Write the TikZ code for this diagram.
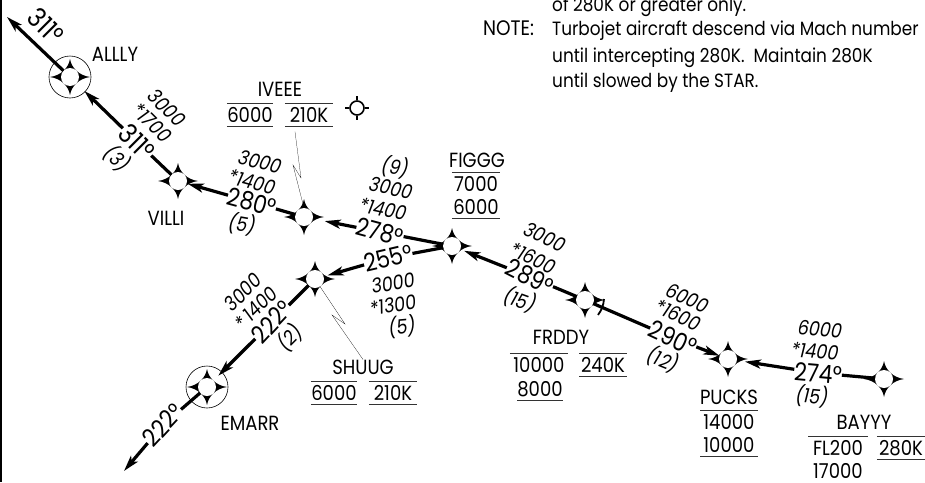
\documentclass[tikz,border=0pt]{standalone}
\usepackage{fontspec}
\setmainfont{Poppins}[FakeStretch=0.88]
\usepackage{tikz}
\usetikzlibrary{arrows.meta}
\tikzset{>={Stealth[length=16pt,width=9pt,inset=4pt]}}
\tikzset{
  track/.style={line width=3.2pt,black},
  inbound/.style={->,line width=3.2pt,black},
  leader/.style={very thin,black},
  fixpt/.style={circle,fill=white,minimum size=18pt,inner sep=0,outer sep=0},
  ringpt/.style={draw=black,line width=0.6pt,fill=none,circle,minimum size=42pt,inner sep=0,outer sep=0},
  crs/.style={font=\fontsize{25}{25}\selectfont,inner sep=0pt},
  crswide/.style={font=\fontsize{27}{25}\selectfont,inner sep=0pt},
  alt/.style={font=\fontsize{20}{20}\selectfont\itshape,inner sep=0},
  fixname/.style={font=\fontsize{20.5}{20}\selectfont,inner sep=0},
  restr/.style={font=\fontsize{20.5}{20}\selectfont,inner sep=0,minimum height=23pt},
  hrule/.style={line width=0.8pt,black!80},
  notetext/.style={font=\fontsize{19.2}{20}\selectfont,inner sep=0,anchor=base west},
}
\newcommand{\fixstar}[2]{
  \fill[shift={(#2)}] (0,-18) .. controls (1.5,-9) and (9,-1.5) .. (20,0) .. controls (9,1.5) and (1.5,9) .. (0,18)
    .. controls (-1.5,9) and (-9,1.5) .. (-20,0) .. controls (-9,-1.5) and (-1.5,-9) .. (0,-18) -- cycle;
  \node[fixpt] (#1) at (#2) {};
}
\begin{document}
\begin{tikzpicture}[x=1pt,y=-1pt]
  \useasboundingbox (0,0) rectangle (925,482);
  \coordinate (edgetop) at (1,0);
  \coordinate (edgebot) at (1,482);
  \draw[line width=1.2pt] (edgetop) -- (edgebot);

  % notes
  \node[notetext] (note0) at (552,11) {of 280K or greater only.};
  \node[notetext,font=\fontsize{21}{20}\selectfont] (note1) at (483,35) {NOTE:};
  \node[notetext] (note2) at (552,35) {Turbojet aircraft descend via Mach number};
  \node[notetext] (note3) at (552,62) {until intercepting 280K.\ \ Maintain 280K};
  \node[notetext] (note4) at (552,87) {until slowed by the STAR.};

  % fixes
  \fixstar{ALLLY}{70,77}
  \fixstar{VILLI}{178,181}
  \fixstar{IVEEE}{304,217}
  \fixstar{FIGGG}{452,246}
  \fixstar{SHUUG}{315,279}
  \fixstar{EMARR}{207,387}
  \fixstar{FRDDY}{585,300}
  \fixstar{PUCKS}{728,359}
  \fixstar{BAYYY}{884,379}
  \node[ringpt] (ringA) at (ALLLY) {};
  \node[ringpt] (ringE) at (EMARR) {};
  \coordinate (outA) at (7,17);
  \coordinate (outE) at (124,471);

  % fix names
  \node[fixname] (nALLLY) at (115,54) {ALLLY};
  \node[fixname] (nVILLI) at (166,218) {VILLI};
  \node[fixname] (nIVEEE) at (280,89) {IVEEE};
  \node[fixname] (nFIGGG) at (477,160) {FIGGG};
  \node[fixname] (nSHUUG) at (363,367) {SHUUG};
  \node[fixname] (nEMARR) at (250,423) {EMARR};
  \node[fixname] (nFRDDY) at (561,337) {FRDDY};
  \node[fixname] (nPUCKS) at (729,397) {PUCKS};
  \node[fixname] (nBAYYY) at (864,422) {BAYYY};

  % courses
  \node[crswide,rotate=-45] (c1) at (46,26) {311°};
  \node[crswide,rotate=-45] (c2) at (137,142) {311°};
  \node[crs,rotate=-15] (c3) at (252,202) {280°};
  \node[crs,rotate=-15] (c4) at (380,232) {278°};
  \node[crs,rotate=13] (c5) at (388,258) {255°};
  \node[crs,rotate=47] (c6) at (272,322) {222°};
  \node[crs,rotate=47] (c7) at (163,425) {222°};
  \node[crs,rotate=-27] (c8) at (530,277) {289°};
  \node[crs,rotate=-25] (c9) at (673,338) {290°};
  \node[crs,rotate=-5] (c10) at (818,373) {274°};

  % tracks
  \draw[inbound] (ALLLY) -- (outA);
  \draw[track] (VILLI) -- (c2);
  \draw[inbound,shorten >=11pt] (c2) -- (ALLLY);
  \draw[track] (IVEEE) -- (c3);
  \draw[inbound,shorten >=1pt] (c3) -- (VILLI);
  \draw[track] (FIGGG) -- (c4);
  \draw[inbound,shorten >=12pt] (c4) -- (IVEEE);
  \draw[track] (FIGGG) -- (c5);
  \draw[inbound,shorten >=4pt] (c5) -- (SHUUG);
  \draw[track] (SHUUG) -- (c6);
  \draw[inbound,shorten >=7pt] (c6) -- (EMARR);
  \draw[track] (EMARR) -- (c7);
  \draw[inbound] (c7) -- (outE);
  \draw[track] (FRDDY) -- (c8);
  \draw[inbound,shorten >=4pt] (c8) -- (FIGGG);
  \draw[track] (FRDDY) -- (c9);
  \draw[inbound] (c9) -- (PUCKS);
  \draw[track] (BAYYY) -- (c10);
  \draw[inbound,shorten >=8pt] (c10) -- (PUCKS);

  % altitudes
  \node[alt,rotate=-45] (a1) at (167,108) {3000};
  \node[alt,rotate=-45] (a2) at (152,123) {*1700};
  \node[alt,rotate=-45] (a3) at (117,159) {(3)};
  \node[alt,rotate=-15] (a4) at (260,162) {3000};
  \node[alt,rotate=-15] (a5) at (252,182) {*1400};
  \node[alt,rotate=-10] (a6) at (242,224) {(5)};
  \node[alt,rotate=-10] (a7) at (395,167) {(9)};
  \node[alt,rotate=-12] (a8) at (391,188) {3000};
  \node[alt,rotate=-12] (a9) at (383,209) {*1400};
  \node[alt,rotate=10] (a10) at (393,283) {3000};
  \node[alt,rotate=10] (a11) at (393,305) {*1300};
  \node[alt,rotate=5] (a12) at (402,327) {(5)};
  \node[alt,rotate=45] (a13) at (243,292) {3000};
  \node[alt,rotate=45] (a14) at (256,308) {*\,1400};
  \node[alt,rotate=45] (a15) at (290,338) {(2)};
  \node[alt,rotate=-25] (a16) at (545,237) {3000};
  \node[alt,rotate=-25] (a17) at (533,258) {*1600};
  \node[alt,rotate=-20] (a18) at (520,300) {(15)};
  \node[alt,rotate=-25] (a19) at (688,298) {6000};
  \node[alt,rotate=-25] (a20) at (678,315) {*1600};
  \node[alt,rotate=-22] (a21) at (663,360) {(12)};
  \node[alt,rotate=-5] (a22) at (820,329) {6000};
  \node[alt,rotate=-5] (a23) at (815,351) {*1400};
  \node[alt,rotate=-5] (a24) at (812,396) {(15)};

  % restrictions
  \node[restr,minimum width=46pt] (r1) at (250,115) {6000};
  \node[restr,minimum width=48pt] (r2) at (309,115) {210K};
  \node[restr,minimum width=48pt] (r3) at (476,184) {7000};
  \node[restr,minimum width=48pt] (r4) at (476,207) {6000};
  \node[restr,minimum width=46pt] (r5) at (334,393) {6000};
  \node[restr,minimum width=48pt] (r6) at (393,393) {210K};
  \node[restr,minimum width=58pt] (r7) at (539,365) {10000};
  \node[restr,minimum width=47pt] (r8) at (603,365) {240K};
  \node[restr,minimum width=45pt] (r9) at (540,389) {8000};
  \node[restr,minimum width=57pt] (r10) at (729,422) {14000};
  \node[restr,minimum width=57pt] (r11) at (729,445) {10000};
  \node[restr,minimum width=59pt] (r12) at (838,448) {FL200};
  \node[restr,minimum width=48pt] (r13) at (901,448) {280K};
  \node[restr,minimum width=55pt,minimum height=14pt] (r14) at (838,471) {17000};
  \draw[hrule] (r1.north west) -- (r1.north east);
  \draw[hrule] (r1.south west) -- (r1.south east);
  \draw[hrule] (r2.north west) -- (r2.north east);
  \draw[hrule] (r2.south west) -- (r2.south east);
  \draw[hrule] (r3.north west) -- (r3.north east);
  \draw[hrule] (r4.south west) -- (r4.south east);
  \draw[hrule] (r5.north west) -- (r5.north east);
  \draw[hrule] (r5.south west) -- (r5.south east);
  \draw[hrule] (r6.north west) -- (r6.north east);
  \draw[hrule] (r6.south west) -- (r6.south east);
  \draw[hrule] (r7.north west) -- (r7.north east);
  \draw[hrule] (r8.south west) -- (r8.south east);
  \draw[hrule] (r8.north west) -- (r8.north east);
  \draw[hrule] (r9.south west) -- (r9.south east);
  \draw[hrule] (r10.north west) -- (r10.north east);
  \draw[hrule] (r11.south west) -- (r11.south east);
  \draw[hrule] (r12.north west) -- (r12.north east);
  \draw[hrule] (r13.north west) -- (r13.north east);
  \draw[hrule] (r13.south west) -- (r13.south east);

  % leaders
  \coordinate (iv1) at (301,178);
  \coordinate (iv2) at (293,165);
  \coordinate (sh1) at (345,324);
  \coordinate (sh2) at (332,315);
  \draw[leader] (r2.south) ++(-14,5) -- (iv1) -- (iv2) -- (IVEEE.north);
  \draw[leader] (SHUUG) -- (sh1) -- (sh2) -- (nSHUUG.north);

  % mark on the FRDDY track
  \coordinate (tk1) at (604,299);
  \coordinate (tk2) at (598,315);
  \draw[line width=1.8pt] (tk1) to[bend left=15] (tk2);

  % fly-over mark
  \node[circle,draw,line width=1.6pt,minimum size=14pt,inner sep=0] (target) at (357,108) {};
  \draw[line width=1.6pt] (target.north) -- +(0,-4);
  \draw[line width=1.6pt] (target.south) -- +(0,4);
  \draw[line width=1.6pt] (target.west) -- +(-4,0);
  \draw[line width=1.6pt] (target.east) -- +(4,0);
\end{tikzpicture}
\end{document}
